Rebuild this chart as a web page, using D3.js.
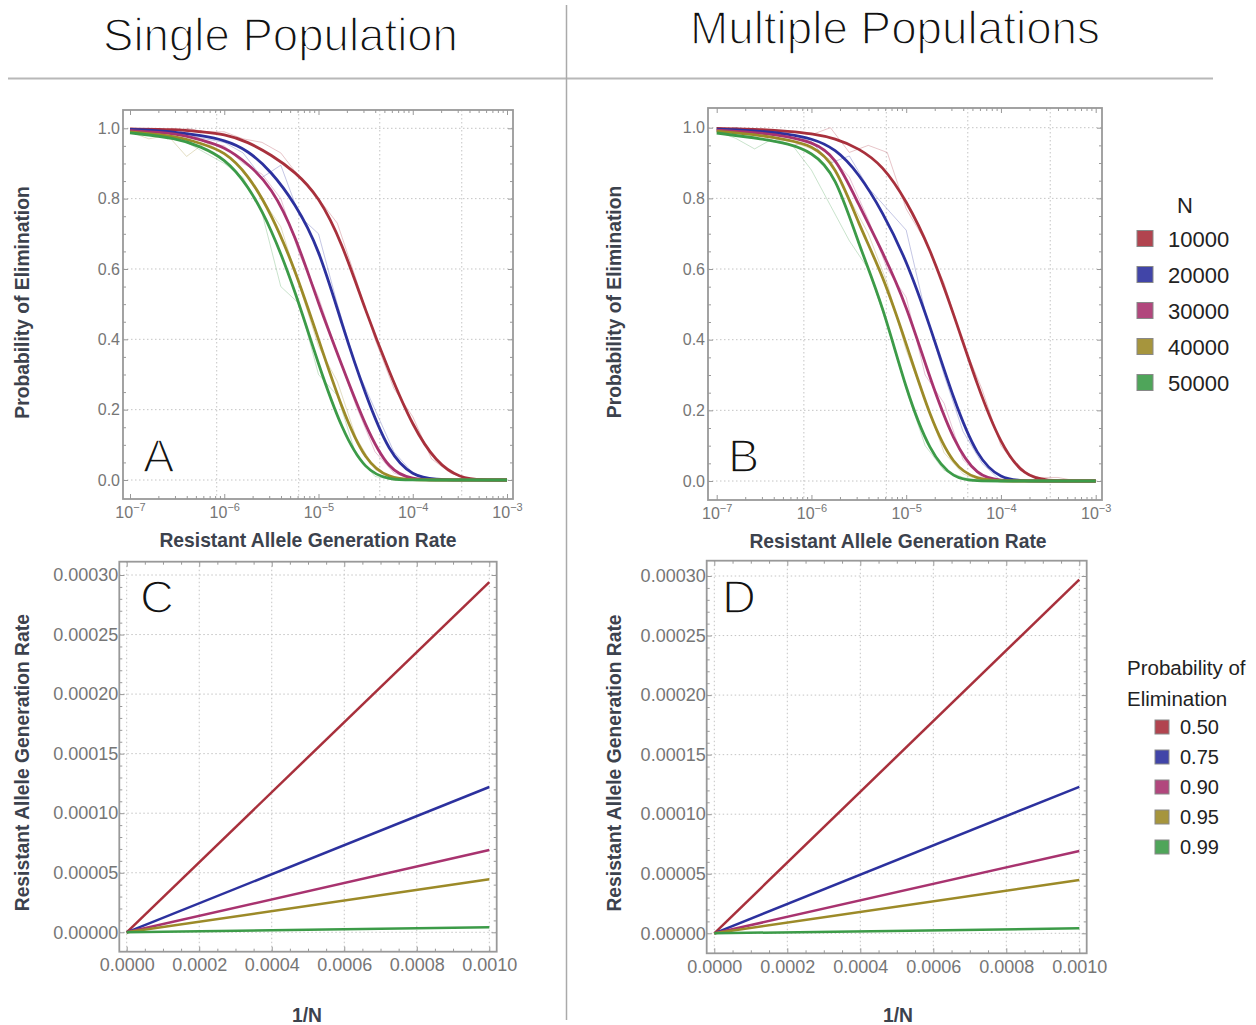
<!DOCTYPE html>
<html><head><meta charset="utf-8">
<script src="https://cdn.jsdelivr.net/npm/d3@7"></script>
<style>
body{margin:0;background:#fff;}
svg{display:block;}
text{font-family:"Liberation Sans",Arial,Helvetica,sans-serif;}
</style>
</head><body>
<svg id="chart" width="1256" height="1025"></svg>
<script>
// ---------------- DATA ----------------
const populationSizes = ["10000","20000","30000","40000","50000"];
const eliminationLevels = ["0.50","0.75","0.90","0.95","0.99"];
const seriesColors = ["#a8303c","#2c319e","#a8336f","#9c8a28","#3c9b48"];

// exponents of the resistant allele generation rate (10^e) for the fitted curves
const fitExponents = [-7,-6.5,-6.25,-6,-5.75,-5.5,-5.25,-5,-4.75,-4.5,-4.25,-4,-3.75,-3.5,-3.25,-3];
// Panel A fitted curves (N = 10000 ... 50000)
const fitA10000 = [0.998,0.997,0.99,0.984,0.962,0.924,0.877,0.808,0.675,0.48,0.307,0.152,0.049,0.005,0,0];
const fitA20000 = [0.997,0.99,0.979,0.967,0.938,0.877,0.787,0.663,0.44,0.24,0.075,0.01,0.001,0,0,0];
const fitA30000 = [0.993,0.986,0.967,0.948,0.90,0.834,0.70,0.50,0.325,0.15,0.025,0.002,0,0,0,0];
const fitA40000 = [0.99,0.978,0.957,0.935,0.87,0.757,0.60,0.40,0.20,0.05,0.005,0,0,0,0,0];
const fitA50000 = [0.987,0.972,0.948,0.915,0.84,0.715,0.54,0.327,0.14,0.025,0.001,0,0,0,0,0];
// Panel B fitted curves
const fitB10000 = [0.998,0.995,0.99,0.984,0.97,0.942,0.894,0.795,0.66,0.474,0.27,0.10,0.012,0.001,0,0];
const fitB20000 = [0.996,0.99,0.982,0.97,0.942,0.871,0.762,0.627,0.44,0.23,0.065,0.005,0,0,0,0];
const fitB30000 = [0.993,0.985,0.975,0.96,0.923,0.781,0.649,0.50,0.29,0.11,0.012,0.001,0,0,0,0];
const fitB40000 = [0.99,0.978,0.965,0.951,0.899,0.725,0.585,0.39,0.18,0.04,0.004,0,0,0,0,0];
const fitB50000 = [0.985,0.968,0.955,0.932,0.871,0.668,0.50,0.255,0.08,0.005,0,0,0,0,0,0];

// exponents for the simulated (thin) lines
const simExponents = [-7,-6.8,-6.6,-6.4,-6.2,-6,-5.8,-5.6,-5.4,-5.2,-5,-4.8,-4.6,-4.4,-4.2,-4,-3.8,-3.6,-3.4,-3.2,-3];
const simA10000 = [0.99,1.0,0.97,1.0,0.99,0.99,0.97,0.96,0.93,0.86,0.80,0.73,0.57,0.40,0.26,0.18,0.06,0.02,0,0,0];
const simA20000 = [0.99,1.0,0.99,0.98,0.97,0.96,0.93,0.86,0.895,0.75,0.70,0.50,0.32,0.20,0.08,0.02,0,0,0,0,0];
const simA30000 = [0.99,1.0,0.98,0.99,0.96,0.95,0.90,0.87,0.80,0.64,0.52,0.36,0.21,0.08,0.02,0,0,0,0,0,0];
const simA40000 = [0.99,0.97,0.98,0.92,0.96,0.93,0.88,0.80,0.72,0.55,0.38,0.28,0.12,0.03,0,0,0,0,0,0,0];
const simA50000 = [0.99,0.98,0.98,0.96,0.93,0.90,0.86,0.76,0.55,0.50,0.30,0.24,0.07,0.01,0,0,0,0,0,0,0];
const simB10000 = [0.99,1.0,0.99,0.98,0.99,0.98,1.0,0.93,0.95,0.93,0.77,0.68,0.56,0.39,0.26,0.10,0.03,0.01,0.01,0,0];
const simB20000 = [0.99,1.0,0.99,0.99,0.98,0.96,0.90,0.92,0.83,0.77,0.71,0.48,0.30,0.14,0.05,0,0,0,0,0,0];
const simB30000 = [0.99,0.99,0.99,0.96,0.95,0.96,0.92,0.86,0.74,0.60,0.52,0.30,0.22,0.06,0.01,0,0,0,0,0,0];
const simB40000 = [0.99,0.99,0.98,0.97,0.96,0.94,0.91,0.80,0.70,0.56,0.37,0.23,0.08,0.02,0,0,0,0,0,0,0];
const simB50000 = [0.99,0.97,0.94,0.97,0.95,0.88,0.78,0.68,0.60,0.44,0.26,0.10,0.03,0.01,0,0,0,0,0,0,0];

// Panels C and D: rate vs 1/N lines (start and end points)
const inverseN = [0, 0.001];
const rateC = [[0,0.000294],[0,0.000122],[0,0.0000691],[0,0.0000445],[0,0.0000042]];
const rateD = [[0,0.000297],[0,0.000123],[0,0.0000691],[0,0.0000448],[0,0.0000042]];

// tick values
const probTicks = [0,0.2,0.4,0.6,0.8,1.0];
const rateExpTicks = [-7,-6,-5,-4,-3];
const gridExponents = [-6.08,-5.21,-4.35,-3.48];
const invNTicks = [0,0.0002,0.0004,0.0006,0.0008,0.001];
const rateTicks = [0,0.00005,0.0001,0.00015,0.0002,0.00025,0.0003];

// ---------------- DRAW ----------------
const svg = d3.select("#chart");
const TICKCOL = "#767676", FRAMECOL = "#999999", GRIDCOL = "#c4c4c4", TITLECOL = "#3c424d";
const LIGHT = "'Liberation Sans', Arial, sans-serif";

// separators
svg.append("line").attr("x1",8).attr("x2",1213).attr("y1",78.5).attr("y2",78.5)
  .attr("stroke","#b8b8b8").attr("stroke-width",2);
svg.append("line").attr("x1",566.5).attr("x2",566.5).attr("y1",5).attr("y2",1020)
  .attr("stroke","#aaaaaa").attr("stroke-width",1.5);

// titles (white outline thins the glyphs to mimic a light face)
function bigTitle(txt, cx, base, w){
  svg.append("text").attr("x",cx).attr("y",base).attr("text-anchor","middle")
    .attr("font-family",LIGHT)
    .attr("font-size",46).attr("fill","#111")
    .attr("stroke","#fff").attr("stroke-width",1.5)
    .attr("textLength",w).attr("lengthAdjust","spacingAndGlyphs").text(txt);
}
bigTitle("Single Population", 280.5, 51, 355);
bigTitle("Multiple Populations", 895, 44, 410);

function frameAndGrid(g, f, xs, ys, gridX, gridY){
  g.selectAll(null).data(gridX).enter().append("line")
    .attr("x1",d=>xs(d)).attr("x2",d=>xs(d)).attr("y1",f.t).attr("y2",f.b)
    .attr("stroke",GRIDCOL).attr("stroke-dasharray","1.5,2.5");
  g.selectAll(null).data(gridY).enter().append("line")
    .attr("x1",f.l).attr("x2",f.r).attr("y1",d=>ys(d)).attr("y2",d=>ys(d))
    .attr("stroke",GRIDCOL).attr("stroke-dasharray","1.5,2.5");
  g.append("rect").attr("x",f.l).attr("y",f.t).attr("width",f.r-f.l).attr("height",f.b-f.t)
    .attr("fill","none").attr("stroke",FRAMECOL).attr("stroke-width",1.8);
}
function inwardTicks(g, f, xs, ys, xMajor, xMinor, yMajor, yMinor){
  const mk = (axisFn, scale, vals, size, tr) => {
    const a = g.append("g").attr("transform",tr)
      .call(axisFn(scale).tickValues(vals).tickSize(size).tickFormat(""));
    a.select(".domain").remove();
    a.selectAll("line").attr("stroke",FRAMECOL);
  };
  mk(d3.axisBottom, xs, xMajor, -5, `translate(0,${f.b})`);
  mk(d3.axisBottom, xs, xMinor, -3, `translate(0,${f.b})`);
  mk(d3.axisTop, xs, xMajor, -5, `translate(0,${f.t})`);
  mk(d3.axisTop, xs, xMinor, -3, `translate(0,${f.t})`);
  mk(d3.axisLeft, ys, yMajor, -5, `translate(${f.l},0)`);
  mk(d3.axisLeft, ys, yMinor, -3, `translate(${f.l},0)`);
  mk(d3.axisRight, ys, yMajor, -5, `translate(${f.r},0)`);
  mk(d3.axisRight, ys, yMinor, -3, `translate(${f.r},0)`);
}
function panelLetter(txt, x, y){
  svg.append("text").attr("x",x).attr("y",y)
    .attr("font-family",LIGHT)
    .attr("font-size",47).attr("fill","#111")
    .attr("stroke","#fff").attr("stroke-width",1.6).text(txt);
}
function axisTitle(txt, x, y, rot){
  const t = svg.append("text").attr("text-anchor","middle").attr("font-weight","bold")
    .attr("font-size",19.3).attr("fill",TITLECOL).text(txt);
  if(rot) t.attr("transform",`translate(${x},${y}) rotate(-90)`);
  else t.attr("x",x).attr("y",y);
}

// ---- Probability panels (A, B) ----
function probPanel(f, xr, yr, fits, sims, letter, letterPos, yTitleX, xTitlePos){
  const g = svg.append("g");
  const xs = d3.scaleLog().domain([1e-7,1e-3]).range(xr);
  const ys = d3.scaleLinear().domain([0,1]).range(yr);
  frameAndGrid(g, f, xs, ys, gridExponents.map(e=>Math.pow(10,e)), probTicks);
  const minors = [];
  for(let k=-7;k<-3;k++) for(let m=2;m<10;m++) minors.push(m*Math.pow(10,k));
  const yMinor = d3.range(0,1.0001,0.05).filter(v=>Math.abs(v*5-Math.round(v*5))>1e-6);
  inwardTicks(g, f, xs, ys, rateExpTicks.map(e=>Math.pow(10,e)), minors, probTicks, yMinor);
  const xa = g.append("g").attr("transform",`translate(0,${f.b})`)
    .call(d3.axisBottom(xs).tickValues(rateExpTicks.map(e=>Math.pow(10,e))).tickSize(0).tickPadding(0));
  xa.select(".domain").remove();
  xa.selectAll("text").each(function(d){
    const s = d3.select(this);
    const e = Math.round(Math.log10(d));
    s.text(null).attr("dy",null).attr("y",19).attr("fill",TICKCOL).attr("font-size",16);
    s.append("tspan").text("10");
    s.append("tspan").attr("dy",-7).attr("font-size",11).text("\u2212"+Math.abs(e));
  });
  const ya = g.append("g").attr("transform",`translate(${f.l},0)`)
    .call(d3.axisLeft(ys).tickValues(probTicks).tickSize(0).tickPadding(3).tickFormat(d3.format(".1f")));
  ya.select(".domain").remove();
  ya.selectAll("text").attr("fill",TICKCOL).attr("font-size",16);

  const clip = "clip"+letter;
  svg.append("clipPath").attr("id",clip).append("rect")
    .attr("x",f.l).attr("y",f.t).attr("width",f.r-f.l).attr("height",f.b-f.t);
  const plot = g.append("g").attr("clip-path",`url(#${clip})`);
  const line = d3.line().x(d=>xs(Math.pow(10,d[0]))).y(d=>ys(d[1]));
  sims.forEach((s,i)=>{
    plot.append("path").datum(simExponents.map((e,j)=>[e,s[j]]))
      .attr("d",line).attr("fill","none").attr("stroke",seriesColors[i])
      .attr("stroke-width",1).attr("stroke-opacity",0.28);
  });
  const smooth = d3.line().curve(d3.curveBasis).x(d=>xs(Math.pow(10,d[0]))).y(d=>ys(d[1]));
  fits.forEach((s,i)=>{
    plot.append("path").datum(fitExponents.map((e,j)=>[e,s[j]]))
      .attr("d",smooth).attr("fill","none").attr("stroke",seriesColors[i])
      .attr("stroke-width",2.8);
  });
  panelLetter(letter, letterPos[0], letterPos[1]);
  axisTitle("Probability of Elimination", yTitleX, (f.t+f.b)/2-2, true);
  axisTitle("Resistant Allele Generation Rate", xTitlePos[0], xTitlePos[1], false);
}

probPanel({l:123,r:513,t:110,b:499},[130,507],[480,128.3],
  [fitA10000,fitA20000,fitA30000,fitA40000,fitA50000],
  [simA10000,simA20000,simA30000,simA40000,simA50000],
  "A",[143,472],29,[308,547]);
probPanel({l:708,r:1102,t:108,b:500},[716.7,1095.7],[481,127.7],
  [fitB10000,fitB20000,fitB30000,fitB40000,fitB50000],
  [simB10000,simB20000,simB30000,simB40000,simB50000],
  "B",[728,472],621,[898,548]);

// ---- Rate panels (C, D) ----
function ratePanel(f, xr, yr, rates, letter, letterPos, yTitleX, xTitlePos){
  const g = svg.append("g");
  const xs = d3.scaleLinear().domain([0,0.001]).range(xr);
  const ys = d3.scaleLinear().domain([0,0.0003]).range(yr);
  frameAndGrid(g, f, xs, ys, invNTicks, rateTicks);
  const xMinor = d3.range(0,0.00100001,0.00005).filter(v=>!invNTicks.some(t=>Math.abs(t-v)<1e-9));
  const yMinor = d3.range(0,0.00030001,0.00001).filter(v=>!rateTicks.some(t=>Math.abs(t-v)<1e-10));
  inwardTicks(g, f, xs, ys, invNTicks, xMinor, rateTicks, yMinor);
  const xa = g.append("g").attr("transform",`translate(0,${f.b})`)
    .call(d3.axisBottom(xs).tickValues(invNTicks).tickSize(0).tickPadding(7).tickFormat(d3.format(".4f")));
  xa.select(".domain").remove();
  xa.selectAll("text").attr("fill",TICKCOL).attr("font-size",18);
  const ya = g.append("g").attr("transform",`translate(${f.l},0)`)
    .call(d3.axisLeft(ys).tickValues(rateTicks).tickSize(0).tickPadding(1).tickFormat(d3.format(".5f")));
  ya.select(".domain").remove();
  ya.selectAll("text").attr("fill",TICKCOL).attr("font-size",18);
  const line = d3.line().x(d=>xs(d[0])).y(d=>ys(d[1]));
  rates.forEach((r,i)=>{
    g.append("path").datum(inverseN.map((x,j)=>[x,r[j]]))
      .attr("d",line).attr("fill","none").attr("stroke",seriesColors[i]).attr("stroke-width",2.5);
  });
  panelLetter(letter, letterPos[0], letterPos[1]);
  axisTitle("Resistant Allele Generation Rate", yTitleX, (f.t+f.b)/2+6, true);
  axisTitle("1/N", xTitlePos[0], xTitlePos[1], false);
}
ratePanel({l:119.3,r:496.7,t:561.7,b:951.7},[126.7,489.3],[932.3,575],rateC,"C",[140,613],29,[307,1022]);
ratePanel({l:706.7,r:1086.7,t:560.7,b:953.3},[714.3,1079.3],[933.3,576],rateD,"D",[722,613],621,[898,1022]);

// ---- Legends ----
const leg1 = svg.append("g");
leg1.append("text").attr("x",1185).attr("y",213).attr("text-anchor","middle")
  .attr("font-size",22).attr("fill","#222").text("N");
const lp1 = d3.scalePoint().domain(populationSizes).range([238.5,382.5]);
populationSizes.forEach((n,i)=>{
  leg1.append("rect").attr("x",1137).attr("y",lp1(n)-8).attr("width",16).attr("height",16)
    .attr("fill",seriesColors[i]).attr("fill-opacity",0.9).attr("stroke","#888").attr("stroke-width",1);
  leg1.append("text").attr("x",1168).attr("y",lp1(n)+8.5).attr("font-size",22).attr("fill","#222").text(n);
});
const leg2 = svg.append("g");
leg2.append("text").attr("x",1127).attr("y",675).attr("font-size",20.5).attr("fill","#222").text("Probability of");
leg2.append("text").attr("x",1127).attr("y",706).attr("font-size",20.5).attr("fill","#222").text("Elimination");
const lp2 = d3.scalePoint().domain(eliminationLevels).range([727,847]);
eliminationLevels.forEach((p,i)=>{
  leg2.append("rect").attr("x",1155).attr("y",lp2(p)-7).attr("width",14).attr("height",14)
    .attr("fill",seriesColors[i]).attr("fill-opacity",0.9).attr("stroke","#888").attr("stroke-width",1);
  leg2.append("text").attr("x",1180).attr("y",lp2(p)+7).attr("font-size",20).attr("fill","#222").text(p);
});
</script>
</body></html>
